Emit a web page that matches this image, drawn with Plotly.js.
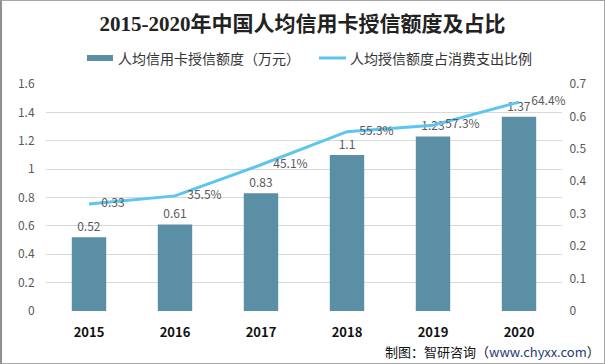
<!DOCTYPE html>
<html><head><meta charset="utf-8">
<script src="https://cdn.plot.ly/plotly-3.0.1.min.js"></script>
<style>
html,body{margin:0;padding:0;background:#fff;}
#wrap{position:relative;width:605px;height:364px;}
#chart{position:absolute;left:0;top:0;width:605px;height:364px;}
#frame{position:absolute;left:0;top:0;width:605px;height:364px;box-sizing:border-box;border:1px solid #a6a6a6;border-left:2px solid #909090;pointer-events:none;}
</style></head>
<body><div id="wrap"><div id="chart"></div><div id="frame"></div></div>
<script>
const years = ["2015","2016","2017","2018","2019","2020"];
const creditPerCapita = [0.52, 0.61, 0.83, 1.1, 1.23, 1.37];
const creditLabels = ["0.52","0.61","0.83","1.1","1.23","1.37"];
const consumptionRatio = [0.33, 0.355, 0.451, 0.553, 0.573, 0.644];
const ratioLabels = ["0.33","35.5%","45.1%","55.3%","57.3%","64.4%"];
const barName = "人均信用卡授信额度（万元）";
const lineName = "人均授信额度占消费支出比例";

const L = 46, R = 43, T = 84, B = 53;
const W = 605, H = 364;
const pw = W - L - R, ph = H - T - B;
const px = v => (v - L) / pw;
const py = v => (H - B - v) / ph;

const font = "Noto Sans CJK SC, Microsoft YaHei, sans-serif";

const bar = {
  type: "bar", x: years, y: creditPerCapita, name: barName,
  marker: {color: "#5b8fa6"},
  text: creditLabels, textposition: "outside", cliponaxis: false,
  textfont: {size: 12, color: "#595959", family: font},
  hoverinfo: "x+y"
};
const line = {
  type: "scatter", mode: "lines+markers+text", x: years, y: consumptionRatio, yaxis: "y2",
  name: lineName,
  line: {color: "#5dc6ef", width: 3},
  marker: {size: 18, color: "rgba(0,0,0,0)"},
  text: ratioLabels, textposition: "middle right", cliponaxis: false,
  textfont: {size: 12, color: "#595959", family: font}
};

const layout = {
  width: W, height: H,
  margin: {l: L, r: R, t: T, b: B},
  paper_bgcolor: "#fff", plot_bgcolor: "#fff",
  showlegend: false,
  bargap: 0.6,
  font: {family: font, size: 12, color: "#595959"},
  title: {text: "<b>2015-2020年中国人均信用卡授信额度及占比</b>",
          font: {family: "Liberation Serif, Noto Sans CJK SC, serif", size: 21, color: "#222"},
          x: 0.5, xanchor: "center", y: 1 - 24 / H, yanchor: "middle"},
  xaxis: {type: "category", showgrid: false, zeroline: false, showline: false,
          ticks: "outside", ticklen: 9, tickcolor: "rgba(0,0,0,0)",
          tickfont: {size: 13, color: "#111", family: font}, tickprefix: "<b>", ticksuffix: "</b>"},
  yaxis: {range: [0, 1.6], dtick: 0.2, showgrid: true, gridcolor: "#d9d9d9", gridwidth: 1,
          zeroline: false, showline: false, ticks: "outside", ticklen: 8, tickcolor: "rgba(0,0,0,0)",
          tickfont: {size: 12, color: "#595959"}, tickformat: "~g"},
  yaxis2: {range: [0, 0.7], dtick: 0.1, overlaying: "y", side: "right", showgrid: false,
           zeroline: false, showline: false, ticks: "outside", ticklen: 4, tickcolor: "rgba(0,0,0,0)",
           tickfont: {size: 12, color: "#595959"}, tickformat: "~g"},
  shapes: [
    {type: "rect", xref: "paper", yref: "paper", x0: px(87), x1: px(113), y0: py(55), y1: py(61),
     fillcolor: "#5b8fa6", line: {width: 0}},
    {type: "line", xref: "paper", yref: "paper", x0: px(319), x1: px(346), y0: py(58), y1: py(58),
     line: {color: "#5dc6ef", width: 3}}
  ],
  annotations: [
    {xref: "paper", yref: "paper", x: px(116), y: py(58), xanchor: "left", yanchor: "middle",
     text: barName, showarrow: false, font: {size: 14, color: "#333"}},
    {xref: "paper", yref: "paper", x: px(348), y: py(58), xanchor: "left", yanchor: "middle",
     text: lineName, showarrow: false, font: {size: 14, color: "#333"}},
    {xref: "paper", yref: "paper", x: px(602), y: py(351), xanchor: "right", yanchor: "middle",
     text: "制图：智研咨询（<span style=\"color:#1f3b73\">www.chyxx.com</span>）", showarrow: false,
     font: {size: 13, color: "#111"}}
  ]
};

Plotly.newPlot("chart", [bar, line], layout, {displayModeBar: false, staticPlot: true});
</script></body></html>
